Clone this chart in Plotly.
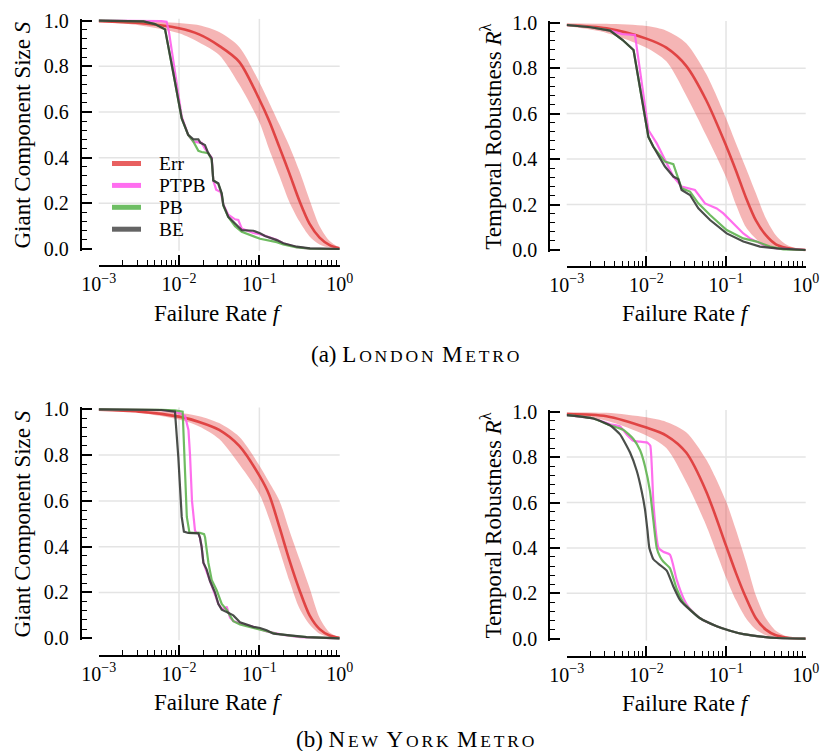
import math
import plotly.graph_objects as go

W, H = 820, 751
FONT = "Liberation Serif"

# ---------------- data ----------------
ERR_F = [0.001, 0.00316, 0.01, 0.0178, 0.0316, 0.0562, 0.1, 0.133, 0.178, 0.237, 0.316, 0.422, 0.562, 0.75, 1.0]

# London, giant component size S
LON_S_ERR_MEAN = [0.998, 0.99, 0.967, 0.94, 0.89, 0.82, 0.655, 0.56, 0.445, 0.33, 0.21, 0.11, 0.05, 0.017, 0.003]
LON_S_ERR_LO = [0.995, 0.98, 0.945, 0.905, 0.85, 0.72, 0.555, 0.435, 0.32, 0.205, 0.12, 0.055, 0.02, 0.006, 0.0]
LON_S_ERR_HI = [1.0, 0.998, 0.99, 0.98, 0.95, 0.885, 0.73, 0.64, 0.545, 0.45, 0.34, 0.215, 0.10, 0.035, 0.005]
LON_S_PTPB_F = [0.001, 0.0036, 0.0060, 0.0070, 0.0075, 0.0108, 0.0130, 0.0151, 0.0174, 0.0191, 0.0210, 0.0231, 0.0255, 0.0267, 0.0290, 0.0330, 0.0356, 0.0410, 0.0498, 0.0547, 0.0603, 0.0841, 0.1019, 0.1644, 0.1986, 0.2917, 0.4266, 1.0]
LON_S_PTPB = [1.0, 1.0, 0.998, 0.995, 0.95, 0.58, 0.50, 0.47, 0.465, 0.465, 0.44, 0.42, 0.40, 0.30, 0.26, 0.25, 0.195, 0.15, 0.13, 0.127, 0.09, 0.07, 0.065, 0.04, 0.025, 0.008, 0.002, 0.0]
LON_S_PB_F = [0.001, 0.0036, 0.0050, 0.0067, 0.0085, 0.0108, 0.0130, 0.0151, 0.0174, 0.0191, 0.0231, 0.0255, 0.0267, 0.0308, 0.0340, 0.0356, 0.0410, 0.0498, 0.0603, 0.0841, 0.1019, 0.1644, 0.1986, 0.2917, 0.4266, 1.0]
LON_S_PB = [1.0, 0.997, 0.985, 0.962, 0.77, 0.572, 0.50, 0.47, 0.43, 0.425, 0.42, 0.39, 0.30, 0.285, 0.24, 0.19, 0.14, 0.10, 0.075, 0.055, 0.045, 0.03, 0.02, 0.007, 0.002, 0.0]
LON_S_BE_F = [0.001, 0.0036, 0.0050, 0.0067, 0.0085, 0.0108, 0.0130, 0.0151, 0.0174, 0.0185, 0.0210, 0.0231, 0.0255, 0.0267, 0.0308, 0.0340, 0.0356, 0.0410, 0.0498, 0.0603, 0.0841, 0.1019, 0.1175, 0.1644, 0.1986, 0.2917, 0.4266, 1.0]
LON_S_BE = [1.0, 0.997, 0.985, 0.962, 0.77, 0.572, 0.50, 0.48, 0.48, 0.465, 0.455, 0.42, 0.397, 0.30, 0.288, 0.244, 0.193, 0.141, 0.112, 0.083, 0.08, 0.069, 0.057, 0.039, 0.025, 0.01, 0.003, 0.0]

# London, temporal robustness R^lambda
LON_R_ERR_MEAN = [0.99, 0.975, 0.93, 0.89, 0.81, 0.66, 0.46, 0.35, 0.23, 0.13, 0.065, 0.025, 0.01, 0.003, 0.0]
LON_R_ERR_LO = [0.985, 0.955, 0.89, 0.83, 0.68, 0.505, 0.32, 0.20, 0.10, 0.05, 0.02, 0.008, 0.003, 0.001, 0.0]
LON_R_ERR_HI = [0.998, 0.995, 0.985, 0.965, 0.91, 0.775, 0.58, 0.47, 0.36, 0.25, 0.14, 0.065, 0.025, 0.008, 0.001]
LON_R_PTPB_F = [0.001, 0.0020, 0.0035, 0.0050, 0.0072, 0.0106, 0.0135, 0.0171, 0.0218, 0.0277, 0.0353, 0.0407, 0.0545, 0.0764, 0.0925, 0.1122, 0.1361, 0.1648, 0.2000, 0.2427, 0.3236, 0.4325, 1.0]
LON_R_PTPB = [0.99, 0.98, 0.965, 0.95, 0.946, 0.528, 0.469, 0.396, 0.323, 0.279, 0.271, 0.264, 0.205, 0.183, 0.161, 0.132, 0.103, 0.073, 0.051, 0.037, 0.015, 0.007, 0.0]
LON_R_PB_F = [0.001, 0.0020, 0.0035, 0.0050, 0.0069, 0.0106, 0.0122, 0.0171, 0.0218, 0.0240, 0.0277, 0.0353, 0.0449, 0.0630, 0.1019, 0.1648, 0.2427, 0.3565, 0.5236, 1.0]
LON_R_PB = [0.99, 0.98, 0.965, 0.925, 0.88, 0.498, 0.455, 0.389, 0.378, 0.337, 0.271, 0.257, 0.205, 0.154, 0.088, 0.051, 0.037, 0.015, 0.003, 0.0]
LON_R_BE_F = [0.001, 0.0020, 0.0035, 0.0050, 0.0069, 0.0106, 0.0122, 0.0171, 0.0218, 0.0252, 0.0277, 0.0353, 0.0449, 0.0630, 0.1019, 0.1648, 0.2667, 0.4325, 1.0]
LON_R_BE = [0.99, 0.98, 0.965, 0.925, 0.88, 0.498, 0.455, 0.367, 0.323, 0.311, 0.264, 0.242, 0.183, 0.132, 0.073, 0.037, 0.015, 0.007, 0.0]

# New York, giant component size S
NY_S_ERR_MEAN = [0.998, 0.99, 0.968, 0.945, 0.91, 0.84, 0.71, 0.625, 0.485, 0.34, 0.21, 0.10, 0.04, 0.012, 0.002]
NY_S_ERR_LO = [0.996, 0.985, 0.955, 0.925, 0.87, 0.76, 0.63, 0.52, 0.385, 0.25, 0.13, 0.06, 0.02, 0.005, 0.0]
NY_S_ERR_HI = [1.0, 0.997, 0.985, 0.97, 0.94, 0.88, 0.755, 0.68, 0.60, 0.47, 0.345, 0.22, 0.09, 0.025, 0.003]
NY_S_PTPB_F = [0.001, 0.0032, 0.0060, 0.0089, 0.0108, 0.0119, 0.0131, 0.0137, 0.0145, 0.0158, 0.0166, 0.0174, 0.0182, 0.0191, 0.0201, 0.0221, 0.0243, 0.0280, 0.0309, 0.0340, 0.0374, 0.0392, 0.0432, 0.0474, 0.0574, 0.0841, 0.1233, 0.1991, 0.3206, 1.0]
NY_S_PTPB = [1.0, 1.0, 0.997, 0.99, 0.98, 0.97, 0.91, 0.80, 0.60, 0.47, 0.46, 0.46, 0.44, 0.40, 0.33, 0.29, 0.25, 0.19, 0.15, 0.13, 0.13, 0.138, 0.09, 0.075, 0.065, 0.05, 0.03, 0.015, 0.005, 0.0]
NY_S_PB_F = [0.001, 0.0032, 0.0060, 0.0089, 0.0111, 0.0119, 0.0125, 0.0135, 0.0150, 0.0182, 0.0205, 0.0211, 0.0232, 0.0255, 0.0294, 0.0340, 0.0392, 0.0474, 0.0574, 0.0841, 0.1122, 0.1644, 0.2410, 0.3882, 1.0]
NY_S_PB = [1.0, 1.0, 0.998, 0.995, 0.99, 0.72, 0.53, 0.46, 0.46, 0.46, 0.455, 0.44, 0.33, 0.255, 0.21, 0.15, 0.124, 0.075, 0.06, 0.045, 0.035, 0.02, 0.012, 0.005, 0.0]
NY_S_BE_F = [0.001, 0.0032, 0.0060, 0.0089, 0.0098, 0.0108, 0.0115, 0.0130, 0.0174, 0.0182, 0.0191, 0.0201, 0.0221, 0.0243, 0.0280, 0.0309, 0.0340, 0.0392, 0.0474, 0.0574, 0.0695, 0.0841, 0.1019, 0.1233, 0.1493, 0.1991, 0.2649, 0.3882, 1.0]
NY_S_BE = [1.0, 1.0, 0.997, 0.99, 0.79, 0.53, 0.466, 0.46, 0.458, 0.44, 0.40, 0.33, 0.30, 0.25, 0.20, 0.15, 0.125, 0.115, 0.10, 0.07, 0.06, 0.05, 0.045, 0.035, 0.02, 0.015, 0.01, 0.005, 0.0]

# New York, temporal robustness R^lambda
NY_R_ERR_MEAN = [0.99, 0.98, 0.93, 0.895, 0.82, 0.65, 0.41, 0.29, 0.18, 0.09, 0.04, 0.015, 0.005, 0.001, 0.0]
NY_R_ERR_LO = [0.985, 0.96, 0.895, 0.84, 0.69, 0.50, 0.27, 0.17, 0.09, 0.04, 0.015, 0.005, 0.002, 0.0, 0.0]
NY_R_ERR_HI = [0.998, 0.995, 0.975, 0.955, 0.91, 0.79, 0.605, 0.48, 0.34, 0.19, 0.09, 0.035, 0.012, 0.003, 0.0]
NY_R_PTPB_F = [0.001, 0.00216, 0.0035, 0.00467, 0.00566, 0.00687, 0.00834, 0.0101, 0.0106, 0.0112, 0.01225, 0.0135, 0.0142, 0.0163, 0.0198, 0.0240, 0.0291, 0.0337, 0.0472, 0.0763, 0.1122, 0.1651, 0.2944, 0.4325, 1.0]
NY_R_PTPB = [0.985, 0.97, 0.945, 0.935, 0.90, 0.872, 0.868, 0.865, 0.86, 0.85, 0.60, 0.44, 0.40, 0.383, 0.37, 0.26, 0.18, 0.14, 0.09, 0.055, 0.035, 0.02, 0.008, 0.003, 0.0]
NY_R_PB_F = [0.001, 0.00216, 0.0035, 0.00514, 0.00687, 0.00834, 0.00961, 0.0111, 0.01225, 0.0135, 0.0149, 0.0163, 0.0198, 0.0240, 0.0291, 0.0389, 0.0472, 0.0763, 0.1122, 0.1651, 0.2944, 0.4325, 1.0]
NY_R_PB = [0.985, 0.97, 0.94, 0.92, 0.88, 0.83, 0.76, 0.65, 0.52, 0.40, 0.36, 0.34, 0.31, 0.22, 0.16, 0.115, 0.09, 0.055, 0.035, 0.02, 0.008, 0.003, 0.0]
NY_R_BE_F = [0.001, 0.00216, 0.0035, 0.00467, 0.00624, 0.00757, 0.00873, 0.00961, 0.0103, 0.0109, 0.01225, 0.0142, 0.0180, 0.0218, 0.0265, 0.0321, 0.0472, 0.0763, 0.1122, 0.1651, 0.2944, 0.4325, 1.0]
NY_R_BE = [0.985, 0.97, 0.94, 0.90, 0.82, 0.74, 0.65, 0.57, 0.48, 0.40, 0.35, 0.33, 0.30, 0.23, 0.17, 0.14, 0.09, 0.055, 0.035, 0.02, 0.008, 0.003, 0.0]

SERIES_NAMES = ["Err", "PTPB", "PB", "BE"]
X_TICKS = [0.001, 0.01, 0.1, 1.0]
X_TICKTEXT = ["10<sup>\u22123</sup>", "10<sup>\u22122</sup>", "10<sup>\u22121</sup>", "10<sup>0</sup>"]
Y_TICKS = [0.0, 0.2, 0.4, 0.6, 0.8, 1.0]
Y_TICKTEXT = ["0.0", "0.2", "0.4", "0.6", "0.8", "1.0"]
Y_TITLE_S = "Giant Component Size <i>S</i>"
Y_TITLE_R = "Temporal Robustness <i>R</i><sup>\u03bb</sup>"
X_TITLE = "Failure Rate <i>f</i>"
CAPTION_LABELS = ["(a)", "(b)"]
CAPTIONS = ["London Metro", "New York Metro"]

# ---------------- styling ----------------
C_ERR = "rgba(222,55,55,0.9)"
C_BAND = "rgba(230,60,60,0.38)"
C_PTPB = "rgba(255,95,235,0.9)"
C_PB = "rgba(95,180,80,0.9)"
C_BE = "rgba(55,60,55,0.9)"
C_LEG = ["rgb(232,96,96)", "rgb(255,110,240)", "rgb(110,190,100)", "rgb(100,100,100)"]

# pixel geometry of each panel: x of 1e-3, x of 1e0, y of 0, y of 1, y-spine x, x-spine y
PANELS = [
    dict(x0=98.7, x1=339.7, yb=249.0, yt=20.7, ylx=80.7, xly=266.0),
    dict(x0=566.7, x1=805.7, yb=250.0, yt=22.7, ylx=549.3, xly=266.7),
    dict(x0=98.7, x1=339.7, yb=638.3, yt=409.3, ylx=80.7, xly=655.7),
    dict(x0=566.7, x1=805.7, yb=638.7, yt=411.7, ylx=549.3, xly=656.7),
]
PAD = 0.008
# legend geometry (pixels)
LEG_X0, LEG_X1, LEG_TX, LEG_Y0, LEG_DY = 112, 141, 157, 163.5, 21.9

DATA = [
    (ERR_F, LON_S_ERR_MEAN, LON_S_ERR_LO, LON_S_ERR_HI,
     (LON_S_PTPB_F, LON_S_PTPB), (LON_S_PB_F, LON_S_PB), (LON_S_BE_F, LON_S_BE), Y_TITLE_S, "linear"),
    (ERR_F, LON_R_ERR_MEAN, LON_R_ERR_LO, LON_R_ERR_HI,
     (LON_R_PTPB_F, LON_R_PTPB), (LON_R_PB_F, LON_R_PB), (LON_R_BE_F, LON_R_BE), Y_TITLE_R, "linear"),
    (ERR_F, NY_S_ERR_MEAN, NY_S_ERR_LO, NY_S_ERR_HI,
     (NY_S_PTPB_F, NY_S_PTPB), (NY_S_PB_F, NY_S_PB), (NY_S_BE_F, NY_S_BE), Y_TITLE_S, "linear"),
    (ERR_F, NY_R_ERR_MEAN, NY_R_ERR_LO, NY_R_ERR_HI,
     (NY_R_PTPB_F, NY_R_PTPB), (NY_R_PB_F, NY_R_PB), (NY_R_BE_F, NY_R_BE), Y_TITLE_R, "spline"),
]

MINOR_X = [k * 10 ** e for e in (-3, -2, -1) for k in range(2, 10)]

fig = go.Figure()
layout = dict(
    template="none",
    width=W, height=H, margin=dict(l=0, r=0, t=0, b=0, pad=0, autoexpand=False),
    paper_bgcolor="white", plot_bgcolor="white",
    font=dict(family=FONT, color="black", size=20),
    showlegend=False,
)
shapes = []
annotations = []

for i, (p, d) in enumerate(zip(PANELS, DATA)):
    n = i + 1
    xa = "x" if n == 1 else f"x{n}"
    ya = "y" if n == 1 else f"y{n}"
    xkey = "xaxis" if n == 1 else f"xaxis{n}"
    ykey = "yaxis" if n == 1 else f"yaxis{n}"
    span = p["yb"] - p["yt"]
    yb_pad = p["yb"] + PAD * span
    yt_pad = p["yt"] - PAD * span

    layout[xkey] = dict(
        type="log", range=[-3, 0], domain=[p["x0"] / W, p["x1"] / W],
        anchor="free", position=1 - p["xly"] / H, automargin=False,
        showline=True, linecolor="black", linewidth=2,
        ticks="inside", ticklen=10, tickwidth=1.6, tickcolor="black",
        tickmode="array", tickvals=X_TICKS, ticktext=X_TICKTEXT,
        tickfont=dict(family=FONT, size=20, color="black"),
        minor=dict(ticks="inside", ticklen=5, tickwidth=1.2, tickcolor="black",
                   tickmode="array", tickvals=MINOR_X, showgrid=False),
        showgrid=False, zeroline=False, fixedrange=True,
    )
    layout[ykey] = dict(
        range=[-PAD, 1 + PAD], domain=[1 - yb_pad / H, 1 - yt_pad / H],
        anchor="free", position=p["ylx"] / W, side="left", automargin=False,
        showline=True, linecolor="black", linewidth=2,
        ticks="inside", ticklen=10, tickwidth=1.6, tickcolor="black",
        tickmode="array", tickvals=Y_TICKS, ticktext=Y_TICKTEXT, ticklabelstandoff=7,
        tickfont=dict(family=FONT, size=20, color="black"),
        minor=dict(ticks="inside", ticklen=5, tickwidth=1.2, tickcolor="black",
                   dtick=0.04, tick0=0, showgrid=False),
        showgrid=False, zeroline=False, fixedrange=True,
    )

    # grid lines
    for v in Y_TICKS[1:-1]:
        shapes.append(dict(type="line", xref=f"{xa} domain", x0=0, x1=1, yref=ya, y0=v, y1=v,
                           line=dict(color="#e4e4e4", width=1.5), layer="below"))
    for f in X_TICKS[1:-1]:
        fr = (math.log10(f) + 3) / 3
        shapes.append(dict(type="line", xref=f"{xa} domain", x0=fr, x1=fr, yref=f"{ya} domain",
                           y0=0, y1=1, line=dict(color="#e4e4e4", width=1.5), layer="below"))

    ef, em, elo, ehi, ptpb, pb, be, ytitle, shp = d
    fig.add_trace(go.Scatter(x=ef, y=ehi, xaxis=xa, yaxis=ya, mode="lines",
                             line=dict(width=0, shape="spline", smoothing=0.8), showlegend=False, hoverinfo="skip"))
    fig.add_trace(go.Scatter(x=ef, y=elo, xaxis=xa, yaxis=ya, mode="lines", fill="tonexty",
                             fillcolor=C_BAND, line=dict(width=0, shape="spline", smoothing=0.8),
                             showlegend=False, hoverinfo="skip"))
    fig.add_trace(go.Scatter(x=ef, y=em, xaxis=xa, yaxis=ya, mode="lines", name="Err",
                             line=dict(color=C_ERR, width=2.6, shape="spline", smoothing=0.8),
                             showlegend=False, hoverinfo="skip"))
    for (fx, fy), col, nm in ((ptpb, C_PTPB, "PTPB"), (pb, C_PB, "PB"), (be, C_BE, "BE")):
        ln = dict(color=col, width=2.2, shape=shp)
        if shp == "spline":
            ln["smoothing"] = 0.5
        fig.add_trace(go.Scatter(x=fx, y=fy, xaxis=xa, yaxis=ya, mode="lines", line=ln, name=nm,
                                 showlegend=False, hoverinfo="skip"))

    # axis titles
    annotations.append(dict(text=X_TITLE, xref="paper", yref="paper", x=218 / W if p["x0"] < 300 else 686.7 / W,
                            y=1 - (p["xly"] + 47) / H, xanchor="center", yanchor="middle", showarrow=False,
                            font=dict(family=FONT, size=23, color="black")))
    annotations.append(dict(text=ytitle, xref="paper", yref="paper", x=(p["ylx"] - 58) / W,
                            y=1 - ((p["yb"] + p["yt"]) / 2) / H, xanchor="center", yanchor="middle",
                            textangle=-90, showarrow=False, font=dict(family=FONT, size=23, color="black")))

# legend (first panel only): thick line samples + labels
for k, (name, col) in enumerate(zip(SERIES_NAMES, C_LEG)):
    yy = 1 - (LEG_Y0 + k * LEG_DY) / H
    shapes.append(dict(type="line", xref="paper", yref="paper", x0=LEG_X0 / W, x1=LEG_X1 / W,
                       y0=yy, y1=yy, line=dict(color=col, width=5)))
    annotations.append(dict(text=name, xref="paper", yref="paper", x=LEG_TX / W, y=yy,
                            xanchor="left", yanchor="middle", showarrow=False,
                            font=dict(family=FONT, size=19.5, color="black")))


def small_caps(text, small=17.5, spacing=2.8):
    out = []
    for word in text.split():
        out.append(f'<span style="letter-spacing:{spacing}px">{word[0]}</span>'
                   f'<span style="font-size:{small}px;letter-spacing:{spacing}px">{word[1:].upper()}</span>')
    return " ".join(out)


# captions
for lab, txt, yc in zip(CAPTION_LABELS, CAPTIONS, (354.5, 739.5)):
    annotations.append(dict(
        text=f"{lab} " + small_caps(txt),
        xref="paper", yref="paper", x=416.5 / W, y=1 - yc / H, xanchor="center", yanchor="middle",
        showarrow=False, font=dict(family=FONT, size=23, color="black")))

layout["shapes"] = shapes
layout["annotations"] = annotations
fig.update_layout(**layout)
fig.write_html("out.html", config={"displayModeBar": False},
               post_script="document.body.style.margin='0';document.body.style.overflow='hidden';")
